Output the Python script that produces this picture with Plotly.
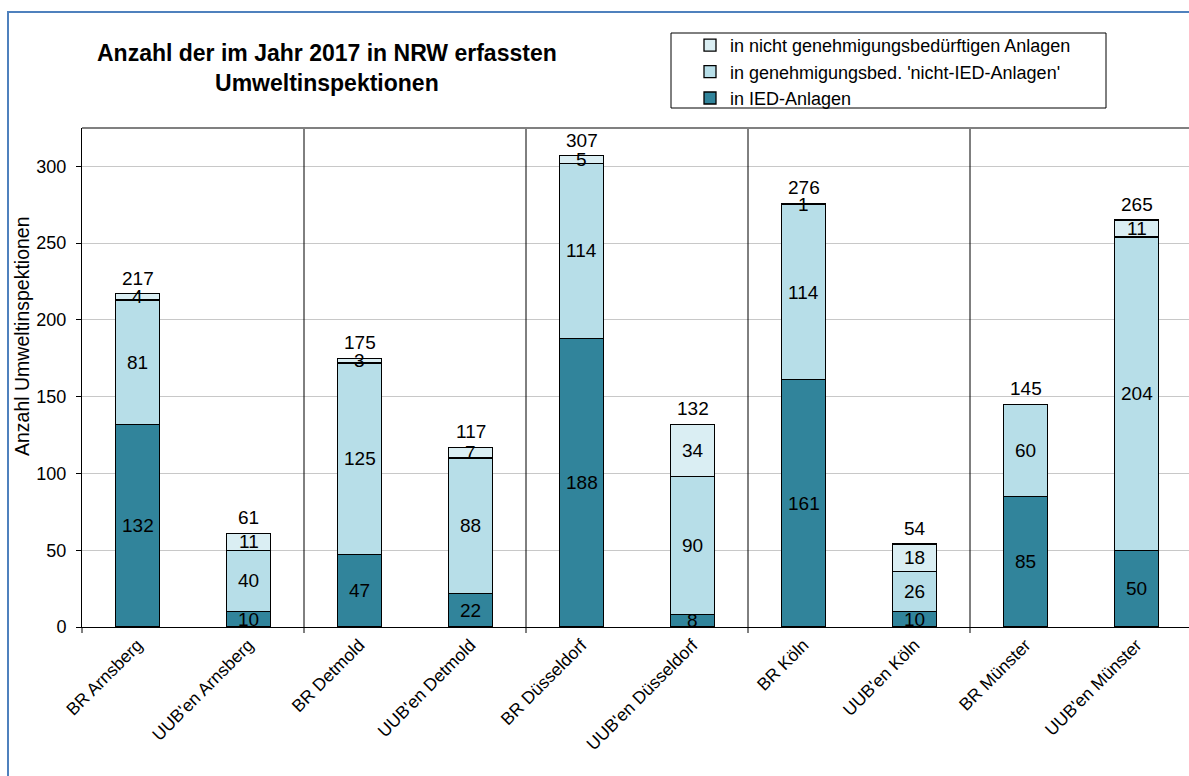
import plotly.graph_objects as go

categories = ["BR Arnsberg", "UUB'en Arnsberg", "BR Detmold", "UUB'en Detmold",
              "BR Düsseldorf", "UUB'en Düsseldorf", "BR Köln", "UUB'en Köln",
              "BR Münster", "UUB'en Münster"]
ied = [132, 10, 47, 22, 188, 8, 161, 10, 85, 50]
nicht_ied = [81, 40, 125, 88, 114, 90, 114, 26, 60, 204]
nicht_gen = [4, 11, 3, 7, 5, 34, 1, 18, 0, 11]

series = [
    ("in IED-Anlagen", ied, "#31849B"),
    ("in genehmigungsbed. 'nicht-IED-Anlagen'", nicht_ied, "#B7DEE8"),
    ("in nicht genehmigungsbedürftigen Anlagen", nicht_gen, "#DAEEF3"),
]

FONT = "Liberation Sans, Arial, sans-serif"
W, H = 1189, 776
L, R, T, B = 82, 0, 128, 149
pw = W - L - R
ph = H - T - B

def px_x(x):
    return (x - L) / pw

def px_y(y):
    return (H - B - y) / ph

fig = go.Figure()
for name, vals, col in series:
    fig.add_trace(go.Bar(
        x=categories, y=vals, name=name, width=0.4,
        marker=dict(color=col, line=dict(color="black", width=1.3)),
        hoverinfo="x+y+name",
    ))

annotations = []
# segment labels
base = [0] * len(categories)
for name, vals, col in series:
    for i, v in enumerate(vals):
        if v > 0:
            annotations.append(dict(x=categories[i], y=base[i] + v / 2, text=str(v),
                                    showarrow=False, xref="x", yref="y",
                                    xanchor="center", yanchor="middle",
                                    font=dict(family=FONT, size=19, color="black")))
        base[i] += v
# totals
for i, t in enumerate(base):
    annotations.append(dict(x=categories[i], y=t, text=str(t), showarrow=False,
                            xref="x", yref="y", xanchor="center", yanchor="bottom", yshift=3,
                            font=dict(family=FONT, size=19, color="black")))
# title
annotations.append(dict(x=px_x(327), y=px_y(68), xref="paper", yref="paper",
                        xanchor="center", yanchor="middle",
                        text="<b>Anzahl der im Jahr 2017 in NRW erfassten<br>Umweltinspektionen</b>",
                        showarrow=False, align="center",
                        font=dict(family=FONT, size=23, color="black")))
# y title
annotations.append(dict(x=px_x(22), y=px_y(336), xref="paper", yref="paper",
                        xanchor="center", yanchor="middle",
                        text="Anzahl Umweltinspektionen", textangle=-90, showarrow=False,
                        font=dict(family=FONT, size=19.5, color="black")))

shapes = []
# group separators
for xs in [1.5, 3.5, 5.5, 7.5]:
    shapes.append(dict(type="line", xref="x", yref="paper", x0=xs, x1=xs,
                       y0=px_y(633), y1=1, line=dict(color="black", width=1)))
shapes.append(dict(type="line", xref="paper", yref="paper", x0=0, x1=0,
                   y0=px_y(633), y1=0, line=dict(color="black", width=1)))
# top plot border
shapes.append(dict(type="line", xref="paper", yref="paper", x0=0, x1=1.05,
                   y0=1, y1=1, line=dict(color="#808080", width=2)))
# legend box
shapes.append(dict(type="rect", xref="paper", yref="paper",
                   x0=px_x(671), x1=px_x(1106), y0=px_y(108), y1=px_y(33),
                   line=dict(color="black", width=1), fillcolor="white", layer="below"))
# outer frame
shapes.append(dict(type="rect", xref="paper", yref="paper",
                   x0=px_x(8), x1=px_x(1250), y0=px_y(820), y1=px_y(12),
                   line=dict(color="#4F81BD", width=2), fillcolor="rgba(0,0,0,0)"))

fig.update_layout(
    width=W, height=H,
    margin=dict(l=L, r=R, t=T, b=B),
    paper_bgcolor="white", plot_bgcolor="white",
    barmode="stack",
    font=dict(family=FONT, size=18, color="black"),
    showlegend=True,
    legend=dict(x=px_x(690), y=px_y(27), xanchor="left", yanchor="top",
                traceorder="reversed", bgcolor="rgba(0,0,0,0)", borderwidth=0,
                font=dict(family=FONT, size=18, color="black"),
                tracegroupgap=0, itemwidth=30),
    annotations=annotations,
    shapes=shapes,
    xaxis=dict(type="category", categoryorder="array", categoryarray=categories,
               range=[-0.5, -0.5 + pw / 111.0], tickangle=-45, ticks="",
               showline=True, linecolor="black", linewidth=1,
               tickfont=dict(family=FONT, size=17.5, color="black"),
               showgrid=False, zeroline=False),
    yaxis=dict(range=[0, 325], tickvals=[0, 50, 100, 150, 200, 250, 300],
               ticks="outside", ticklen=5, tickcolor="black", ticklabelstandoff=6,
               showline=True, linecolor="black", linewidth=1,
               gridcolor="#c8c8c8", gridwidth=1, zeroline=False,
               tickfont=dict(family=FONT, size=18, color="black")),
)

fig.write_html("out.html")
